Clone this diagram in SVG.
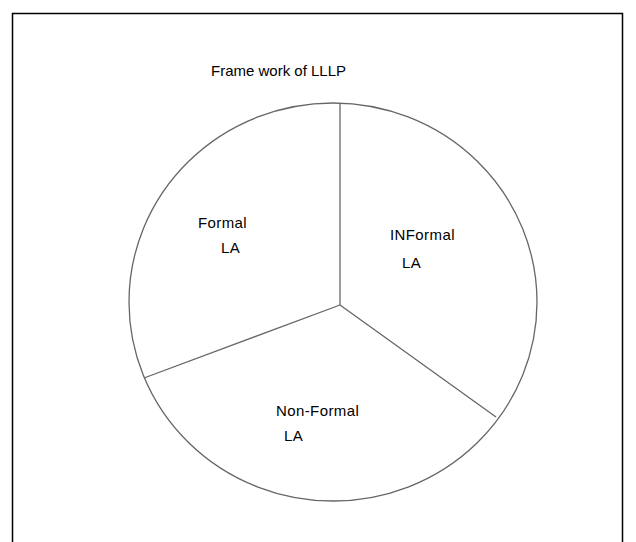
<svg xmlns="http://www.w3.org/2000/svg" width="636" height="542" viewBox="0 0 636 542">
<style>
.t{font-family:"Liberation Sans",Arial,sans-serif;font-size:15px;fill:#000;letter-spacing:0.4px}
.pie{fill:none;stroke:#666;stroke-width:1.3}
</style>
<rect x="0" y="0" width="636" height="542" fill="#fff"/>
<path d="M12.5 560 V13.5 H622.5 V560" fill="none" stroke="#000" stroke-width="1.5"/>
<text class="t" x="211" y="76" style="letter-spacing:0">Frame work of LLLP</text>
<g id="pie">
<ellipse class="pie" cx="333" cy="302" rx="204" ry="199"/>
</g>
<g id="connectors">
<line class="pie" x1="340" y1="305" x2="340" y2="103"/>
<line class="pie" x1="340" y1="305" x2="496" y2="417"/>
<line class="pie" x1="340" y1="305" x2="144" y2="378"/>
</g>
<g id="formal"><text class="t" x="198" y="228">Formal</text><text class="t" x="221" y="253">LA</text></g>
<g id="informal"><text class="t" x="390" y="240">INFormal</text><text class="t" x="402" y="268">LA</text></g>
<g id="nonformal"><text class="t" x="276" y="416">Non-Formal</text><text class="t" x="284" y="441">LA</text></g>
</svg>
